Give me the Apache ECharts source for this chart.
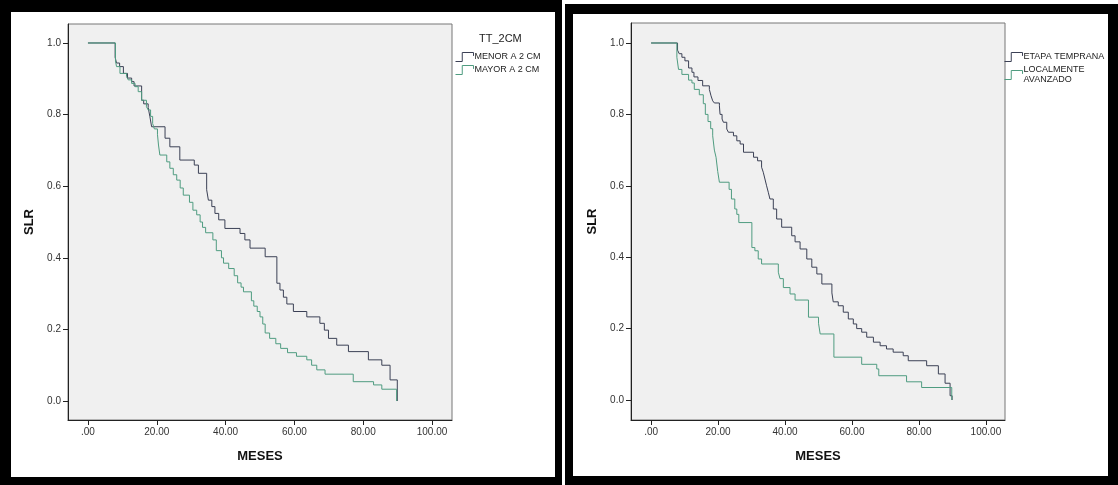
<!DOCTYPE html>
<html>
<head>
<meta charset="utf-8">
<title>SLR - MESES</title>
<script src="https://cdn.jsdelivr.net/npm/echarts@6/dist/echarts.min.js"></script>
<style>
html, body { margin: 0; padding: 0; background: #ffffff; }
.frame { position: absolute; box-sizing: border-box; border-style: solid; border-color: #000; background: #fff; }
#chart { position: absolute; left: 0; top: 0; width: 1118px; height: 485px; }
</style>
</head>
<body>
<div class="frame" style="left:0;top:0;width:562px;height:485px;border-width:12px 7px 8px 11px;"></div>
<div class="frame" style="left:565px;top:4px;width:553px;height:481px;border-width:10px 10px 9px 8px;"></div>
<div id="chart"></div>
<script>
// ejes
const xTicks = [0, 20, 40, 60, 80, 100];
const xTickLabels = ['.00', '20.00', '40.00', '60.00', '80.00', '100.00'];
const yTicks = [0, 0.2, 0.4, 0.6, 0.8, 1.0];
const yTickLabels = ['0.0', '0.2', '0.4', '0.6', '0.8', '1.0'];

// panel izquierdo: TT_2CM
const menorMeses = [0, 7.9, 8.3, 9.2, 10.3, 11.5, 12.7, 13.4, 15.6, 16.2, 17.5, 18.0, 18.5, 22.4, 23.8, 26.7, 30.9, 32.1, 34.5, 35.0,
  36.0, 36.9, 38.0, 39.8, 44.2, 45.6, 47.1, 51.5, 54.9, 55.8, 56.8, 57.8, 59.7, 63.6, 67.4, 68.7, 69.9, 72.3, 75.7, 81.5,
  85.4, 87.8, 89.9];
const menorSlr = [1.0, 0.96, 0.944, 0.934, 0.915, 0.902, 0.892, 0.88, 0.84, 0.83, 0.82, 0.794, 0.766, 0.734, 0.71, 0.673, 0.659, 0.636, 0.59, 0.561,
  0.543, 0.524, 0.506, 0.482, 0.468, 0.45, 0.427, 0.403, 0.329, 0.31, 0.29, 0.271, 0.25, 0.235, 0.217, 0.198, 0.175, 0.156, 0.138, 0.115,
  0.1, 0.059, 0.0];
const mayorMeses = [0, 8.0, 8.3, 9.3, 11.2, 11.7, 12.7, 13.7, 14.6, 15.6, 17.0, 17.5, 18.2, 18.8, 19.3, 20.2, 20.5, 20.9, 22.9, 23.8,
  24.8, 25.8, 26.8, 27.7, 29.5, 30.5, 31.6, 32.6, 33.3, 34.2, 36.3, 37.3, 38.8, 39.4, 40.9, 42.5, 43.5, 44.5, 45.2, 47.5,
  48.2, 49.2, 50.0, 50.8, 51.5, 52.8, 54.6, 56.0, 58.0, 60.6, 63.6, 65.0, 66.5, 68.9, 77.1, 83.0, 85.4, 89.7];
const mayorSlr = [1.0, 0.95, 0.934, 0.915, 0.906, 0.897, 0.887, 0.878, 0.864, 0.84, 0.822, 0.813, 0.795, 0.775, 0.76, 0.745, 0.715, 0.687, 0.668, 0.65,
  0.632, 0.617, 0.595, 0.575, 0.555, 0.533, 0.52, 0.5, 0.485, 0.47, 0.45, 0.42, 0.4, 0.385, 0.37, 0.35, 0.33, 0.318, 0.305, 0.28,
  0.265, 0.25, 0.235, 0.215, 0.19, 0.175, 0.16, 0.147, 0.135, 0.125, 0.115, 0.1, 0.087, 0.075, 0.054, 0.045, 0.033, 0.0];

// panel derecho: etapa
const tempranaMeses = [0, 7.9, 8.4, 9.2, 10.1, 11.2, 12.2, 12.8, 14.0, 15.4, 17.4, 17.9, 18.4, 18.9, 20.4, 20.6, 21.2, 21.6, 22.6, 23.1,
  24.6, 25.6, 26.6, 27.6, 30.6, 31.8, 33.0, 33.5, 34.0, 34.5, 35.0, 35.5, 36.5, 37.5, 39.0, 42.0, 43.0, 44.5, 46.5, 48.0,
  49.5, 51.0, 54.0, 54.4, 55.9, 57.4, 58.9, 60.4, 61.4, 62.9, 64.4, 66.4, 68.4, 70.3, 72.3, 75.3, 76.8, 82.3, 85.8, 87.8,
  89.3, 89.9];
const tempranaSlr = [1.0, 0.98, 0.97, 0.96, 0.95, 0.93, 0.918, 0.905, 0.895, 0.88, 0.87, 0.852, 0.838, 0.832, 0.824, 0.8, 0.787, 0.778, 0.759, 0.75,
  0.74, 0.726, 0.717, 0.694, 0.68, 0.67, 0.652, 0.638, 0.619, 0.6, 0.582, 0.563, 0.535, 0.507, 0.484, 0.46, 0.443, 0.423, 0.395, 0.372,
  0.353, 0.325, 0.3, 0.275, 0.264, 0.246, 0.227, 0.213, 0.2, 0.19, 0.176, 0.162, 0.152, 0.143, 0.134, 0.124, 0.11, 0.096, 0.073, 0.047,
  0.012, 0.0];
const avanzadoMeses = [0, 7.7, 8.2, 9.2, 11.2, 12.2, 12.9, 14.4, 15.6, 16.2, 17.0, 17.8, 18.4, 18.9, 19.4, 19.9, 20.4, 23.3, 24.0, 25.0,
  25.6, 26.2, 30.1, 31.0, 32.0, 33.0, 38.0, 38.5, 39.5, 41.5, 43.0, 47.0, 50.0, 50.5, 54.6, 62.9, 67.4, 68.0, 76.3, 80.8,
  89.8];
const avanzadoSlr = [1.0, 0.96, 0.926, 0.912, 0.896, 0.888, 0.87, 0.855, 0.83, 0.8, 0.78, 0.76, 0.74, 0.7, 0.68, 0.64, 0.61, 0.59, 0.563, 0.535,
  0.52, 0.497, 0.427, 0.418, 0.395, 0.381, 0.358, 0.34, 0.315, 0.297, 0.28, 0.232, 0.215, 0.185, 0.12, 0.1, 0.087, 0.068, 0.051, 0.035,
  0.0];

const DARK = '#3b4055';
const GREEN = '#4f9c80';
const FONT = 'Arial, "Liberation Sans", sans-serif';
const stepIcon = 'path://M0,8L6,8L6,0L16,0L16,3';

const pairs = (m, s) => m.map((v, i) => [v, s[i]]);
const labelOf = (ticks, labels) => v => {
  const i = ticks.findIndex(t => Math.abs(t - v) < 1e-6);
  return i < 0 ? '' : labels[i];
};
// icono escalonado tipo SPSS: solo trazo
const legendItem = (name, color) => ({
  name, icon: stepIcon,
  itemStyle: { color: 'rgba(0,0,0,0)', borderColor: color, borderWidth: 1, borderType: 'solid' }
});

const makeX = (gridIndex, min, max) => ({
  type: 'value', gridIndex, min, max,
  name: 'MESES', nameLocation: 'middle', nameGap: 30,
  nameTextStyle: { fontSize: 13, fontWeight: 'bold', color: '#111', fontFamily: FONT },
  splitLine: { show: false },
  axisLine: { show: true, onZero: false, lineStyle: { color: '#222', width: 1 } },
  axisTick: { show: true, customValues: xTicks, length: 5, lineStyle: { color: '#222' } },
  axisLabel: { customValues: xTicks, formatter: labelOf(xTicks, xTickLabels), fontSize: 10, color: '#333', margin: 7, fontFamily: FONT }
});
const makeY = (gridIndex, min, max) => ({
  type: 'value', gridIndex, min, max,
  name: 'SLR', nameLocation: 'middle', nameGap: 32, nameRotate: 90,
  nameTextStyle: { fontSize: 13, fontWeight: 'bold', color: '#111', fontFamily: FONT },
  splitLine: { show: false },
  axisLine: { show: true, onZero: false, lineStyle: { color: '#222', width: 1 } },
  axisTick: { show: true, customValues: yTicks, length: 5, lineStyle: { color: '#222' } },
  axisLabel: { customValues: yTicks, formatter: labelOf(yTicks, yTickLabels), fontSize: 10, color: '#333', margin: 7, fontFamily: FONT }
});
const makeLine = (name, data, color, idx) => ({
  name, type: 'line', step: 'end', data,
  xAxisIndex: idx, yAxisIndex: idx,
  showSymbol: false, symbol: 'none', silent: true, animation: false,
  lineStyle: { color, width: 1 }, itemStyle: { color }
});
const gridBox = { show: true, backgroundColor: '#f0f0f0', borderColor: '#777', borderWidth: 1 };
const legendBase = {
  orient: 'vertical', icon: stepIcon, itemWidth: 18, itemHeight: 9, itemGap: 3, padding: 0,
  selectedMode: false, symbolKeepAspect: false,
  textStyle: { fontSize: 9, color: '#222', fontFamily: FONT, lineHeight: 10, padding: [0, 0, 0, -4] }
};

const chart = echarts.init(document.getElementById('chart'), null, { renderer: 'canvas' });
chart.setOption({
  animation: false,
  textStyle: { fontFamily: FONT },
  title: [{
    text: 'TT_2CM', left: 479, top: 33, padding: 0,
    textStyle: { fontSize: 11, fontWeight: 'normal', color: '#222', fontFamily: FONT }
  }],
  legend: [
    Object.assign({}, legendBase, {
      left: 455, top: 52,
      data: [legendItem('MENOR A 2 CM', DARK), legendItem('MAYOR A 2 CM', GREEN)]
    }),
    Object.assign({}, legendBase, {
      left: 1004, top: 52,
      data: [legendItem('ETAPA TEMPRANA', DARK), legendItem('LOCALMENTE AVANZADO', GREEN)],
      formatter: n => n.replace('LOCALMENTE ', 'LOCALMENTE\n')
    })
  ],
  grid: [
    Object.assign({ left: 68, top: 24, width: 384, height: 396 }, gridBox),
    Object.assign({ left: 631, top: 23, width: 374, height: 397 }, gridBox)
  ],
  xAxis: [makeX(0, -5.8, 105.8), makeX(1, -6.0, 105.7)],
  yAxis: [makeY(0, -0.053, 1.053), makeY(1, -0.056, 1.056)],
  series: [
    makeLine('MENOR A 2 CM', pairs(menorMeses, menorSlr), DARK, 0),
    makeLine('MAYOR A 2 CM', pairs(mayorMeses, mayorSlr), GREEN, 0),
    makeLine('ETAPA TEMPRANA', pairs(tempranaMeses, tempranaSlr), DARK, 1),
    makeLine('LOCALMENTE AVANZADO', pairs(avanzadoMeses, avanzadoSlr), GREEN, 1)
  ]
});
</script>
</body>
</html>
